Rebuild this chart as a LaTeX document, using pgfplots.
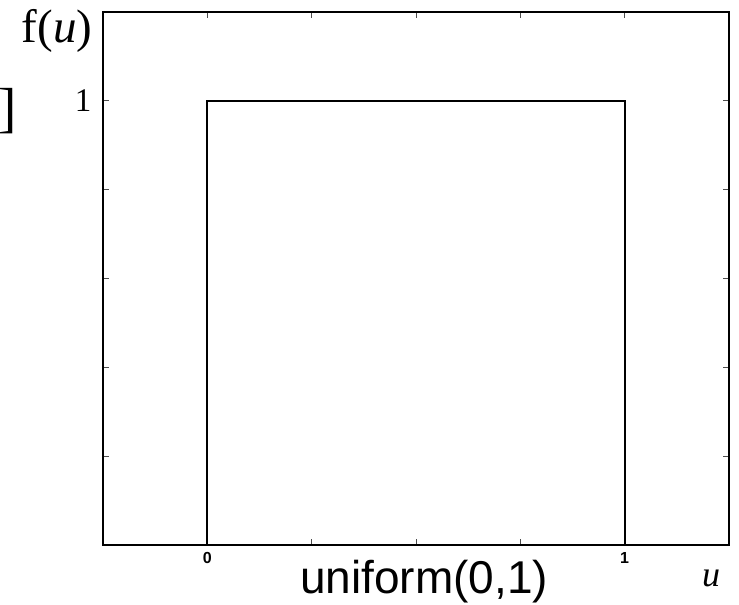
\documentclass[border=0pt]{standalone}
\usepackage{pgfplots}
\pgfplotsset{compat=1.18}
\usepackage{fontspec}
\setmainfont{Liberation Serif}
\newfontfamily\arial{Liberation Sans}

\begin{document}
\begin{tikzpicture}[x=1pt,y=1pt]
\useasboundingbox (0,0) rectangle (739,605);
\begin{axis}[
    at={(103pt,60pt)}, anchor=south west,
    width=626pt, height=533pt, scale only axis,
    xmin=-0.25, xmax=1.25, ymin=0, ymax=1.2,
    xtick={-0.25,0,0.25,0.5,0.75,1,1.25},
    xticklabels={,{\arial\bfseries 0},,,,{\arial\bfseries 1},},
    ytick={0,0.2,0.4,0.6,0.8,1,1.2},
    yticklabels={,,,,,1,},
    tick pos=both, xticklabel pos=lower, yticklabel pos=left,
    tick align=inside, major tick length=6pt,
    major tick style={gray!60!black, line width=1pt},
    axis line style={line width=1.5pt},
    xticklabel style={font=\arial\bfseries\fontsize{16}{16}\selectfont, yshift=-4pt},
    yticklabel style={font=\fontsize{33}{33}\selectfont, xshift=-8pt},
]
% density of uniform(0,1)
\addplot[black, line width=2.2pt] coordinates {(0,0) (0,1) (1,1) (1,0)};
\end{axis}
\node[anchor=base] at (57,562) {\fontsize{47}{47}\selectfont f(\textit{u})};
\node[anchor=base west, inner sep=0pt] at (-1.5,478) {\fontsize{55}{55}\selectfont ]};
\node[anchor=base] at (424,11) {\arial\fontsize{46}{46}\selectfont uniform(0,1)};
\node[anchor=base] at (711,18) {\fontsize{36}{36}\selectfont\textit{u}};
\end{tikzpicture}
\end{document}
